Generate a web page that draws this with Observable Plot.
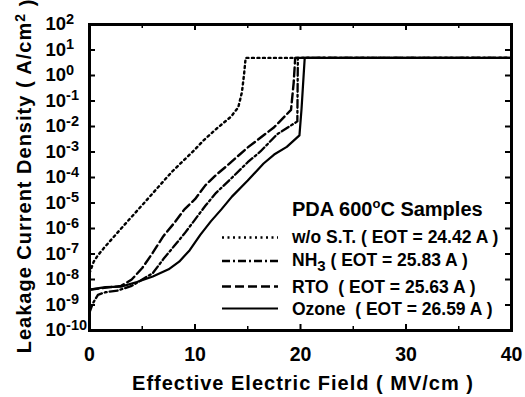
<!DOCTYPE html>
<html><head><meta charset="utf-8">
<script src="https://cdn.jsdelivr.net/npm/d3@7"></script>
<script src="https://cdn.jsdelivr.net/npm/@observablehq/plot@0.6"></script>
<style>
html,body{margin:0;padding:0;background:#fff;}
#wrap{position:relative;width:525px;height:397px;font-family:"Liberation Sans",Arial,sans-serif;}
#overlay{position:absolute;left:0;top:0;pointer-events:none;}
#overlay text{font-family:"Liberation Sans",Arial,sans-serif;font-weight:bold;fill:#000;white-space:pre;}
</style></head><body><div id="wrap"></div>
<script>
// Effective electric field (MV/cm) and log10 of leakage current density (A/cm^2)
const fieldWoST = [0, 0.4, 0.8, 1.5, 3, 5, 7.8, 9.9, 10.8, 12, 13.4, 14.1, 14.45, 14.65, 14.8, 40];
const logJWoST  = [-7.75, -7.3, -7.05, -6.7, -6.0, -5.08, -3.78, -2.94, -2.55, -2.1, -1.62, -1.25, -0.65, 0.05, 0.69, 0.69];

const fieldNH3 = [0, 0.3, 0.8, 1.5, 2.7, 4, 5, 6, 7, 8, 9, 10, 11, 12, 13.4, 15, 16.2, 17.8, 19.7, 19.75, 40];
const logJNH3  = [-9.3, -8.95, -8.6, -8.5, -8.43, -8.25, -8.0, -7.75, -7.2, -6.7, -6.2, -5.65, -5.1, -4.6, -4.05, -3.4, -2.98, -2.3, -1.8, 0.69, 0.69];

const fieldRTO = [0, 2, 3, 4, 5, 6, 7, 8, 9, 10, 11, 12, 13, 15, 17.5, 19.1, 19.35, 19.5, 40];
const logJRTO  = [-8.4, -8.3, -8.25, -8.0, -7.55, -6.95, -6.3, -5.8, -5.25, -4.85, -4.3, -3.9, -3.55, -2.82, -2.03, -1.35, -0.3, 0.69, 0.69];

const fieldOzone = [0, 1.5, 3, 4.5, 6, 7.5, 8.5, 9.5, 10.5, 11.5, 12.5, 13.5, 15, 16.5, 17.5, 18.7, 19.9, 20.1, 20.4, 40];
const logJOzone  = [-8.4, -8.3, -8.28, -8.1, -7.88, -7.6, -7.3, -6.85, -6.25, -5.72, -5.25, -4.75, -4.12, -3.45, -3.1, -2.8, -2.35, -1.3, 0.69, 0.69];

const seriesNames = ["w/o S.T.", "NH3", "RTO", "Ozone"];
const eotValues = ["24.42", "25.83", "25.63", "26.59"];
const xTicks = [0, 10, 20, 30, 40];
const xMajorInner = [10, 20, 30];
const xMinorInner = [5, 15, 25, 35];
const yTickExps = [-10, -9, -8, -7, -6, -5, -4, -3, -2, -1, 0, 1, 2];
const legendTitle = "PDA 600";
const xTitle = "Effective Electric Field ( MV/cm )";
const yTitle = "Leakage Current Density ( A/cm";

const styles = {
  "w/o S.T.": {dash: "2,3.5", width: 2.4},
  "NH3": {dash: "8,3,2,3", width: 2.3},
  "RTO": {dash: "9,4", width: 2.4},
  "Ozone": {dash: null, width: 2.2}
};

function rows(name, xs, ls) { return xs.map((x, i) => ({s: name, E: x, J: Math.pow(10, ls[i])})); }
const data = {
  "w/o S.T.": rows("w/o S.T.", fieldWoST, logJWoST),
  "NH3": rows("NH3", fieldNH3, logJNH3),
  "RTO": rows("RTO", fieldRTO, logJRTO),
  "Ozone": rows("Ozone", fieldOzone, logJOzone)
};
const yTicks = yTickExps.map(e => Math.pow(10, e));

const lineMarks = seriesNames.map(n => Plot.line(data[n], {
  x: "E", y: "J", stroke: "#000", strokeWidth: styles[n].width,
  strokeDasharray: styles[n].dash || undefined, strokeLinejoin: "round"
}));

const chart = Plot.plot({
  width: 525, height: 397,
  marginLeft: 89, marginRight: 14, marginTop: 24, marginBottom: 67,
  x: {domain: [0, 40]},
  y: {type: "log", domain: [1e-10, 1e2]},
  style: {fontFamily: '"Liberation Sans", Arial, sans-serif', color: "#000", background: "#fff", overflow: "visible"},
  marks: [
    Plot.axisX({ticks: xTicks, tickSize: 0, tickPadding: 17, label: null, fontSize: 19.5, fontWeight: "bold", tickFormat: d => String(d)}),
    Plot.axisY({ticks: yTicks, tickSize: 0, tickPadding: 44, textAnchor: "start", label: null, fontSize: 18.5, fontWeight: "bold",
      tickFormat: d => "10^" + Math.round(Math.log10(d))}),
    Plot.ruleX(xMajorInner, {insetTop: 300, strokeWidth: 2}),
    Plot.ruleX(xMinorInner, {insetTop: 302, strokeWidth: 1.5}),
    Plot.ruleX(xMajorInner, {insetBottom: 300, strokeWidth: 2}),
    Plot.ruleX(xMinorInner, {insetBottom: 302, strokeWidth: 1.5}),
    Plot.ruleY(yTicks, {insetRight: 416, strokeWidth: 2}),
    Plot.ruleY(yTicks, {insetLeft: 416, strokeWidth: 2}),
    ...lineMarks,
    Plot.frame({stroke: "#000", strokeWidth: 3})
  ]
});

// superscripts on y tick labels
d3.select(chart).selectAll('g[aria-label="y-axis tick label"] text').each(function() {
  const t = this.textContent;
  const parts = t.split("^");
  if (parts.length !== 2) return;
  const sel = d3.select(this);
  sel.text(null);
  sel.append("tspan").text(parts[0]);
  sel.append("tspan").attr("dy", "-0.45em").attr("font-size", 14.5).text(parts[1]);
});

const wrap = document.getElementById("wrap");
wrap.appendChild(chart);

// overlay: axis titles and legend
const ov = d3.select(wrap).append("svg").attr("id", "overlay").attr("width", 525).attr("height", 397);

ov.append("text").attr("x", 303).attr("y", 390).attr("text-anchor", "middle").attr("font-size", 20)
  .attr("letter-spacing", 1).text(xTitle);
const yt = ov.append("text").attr("transform", "translate(31,176) rotate(-90)").attr("text-anchor", "middle")
  .attr("font-size", 20).attr("letter-spacing", 1);
yt.append("tspan").text(yTitle);
yt.append("tspan").attr("dy", "-0.45em").attr("font-size", 14).text("2");
yt.append("tspan").attr("dy", "0.45em").text(" )");

const tt = ov.append("text").attr("x", 292).attr("y", 216).attr("font-size", 20);
tt.append("tspan").text(legendTitle);
tt.append("tspan").attr("dy", -8).attr("font-size", 13).text("o");
tt.append("tspan").attr("dy", 8).text("C Samples");

const rowBase = [243, 266, 292.5, 315];
const rowLine = [237.5, 261, 286.5, 308.5];
const gaps = [" ", " ", "  ", "  "];
seriesNames.forEach((n, i) => {
  const st = styles[n];
  ov.append("line").attr("x1", 222).attr("x2", 278).attr("y1", rowLine[i]).attr("y2", rowLine[i])
    .attr("stroke", "#000").attr("stroke-width", st.width).attr("stroke-dasharray", st.dash);
  const tx = ov.append("text").attr("x", 292).attr("y", rowBase[i]).attr("font-size", 17.5);
  if (n === "NH3") {
    tx.append("tspan").text("NH");
    tx.append("tspan").attr("dy", 5).attr("font-size", 15).text("3");
    tx.append("tspan").attr("dy", -5).text(gaps[i] + "( EOT = " + eotValues[i] + " A )");
  } else {
    tx.append("tspan").text(n + gaps[i] + "( EOT = " + eotValues[i] + " A )");
  }
});
</script></body></html>
